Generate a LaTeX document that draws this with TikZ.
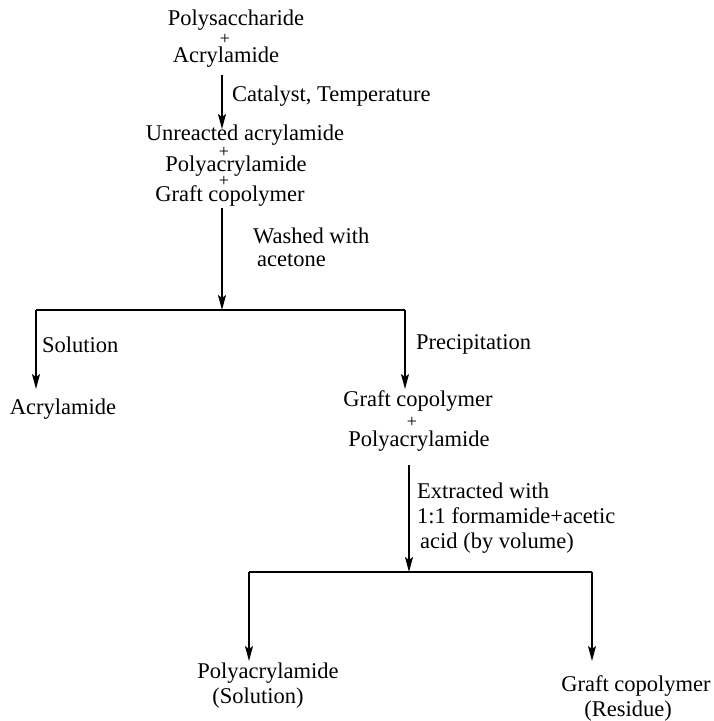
\documentclass[tikz,border=0pt]{standalone}
\usepackage{fontspec}
\setmainfont{Liberation Serif}
\usetikzlibrary{arrows.meta}
\begin{document}
\begin{tikzpicture}[x=1pt,y=-1pt,
 lbl/.style={inner sep=0pt, font=\fontsize{22.5}{25}\selectfont, text height=15pt, text depth=5pt},
 lblw/.style={lbl, anchor=west},
 plus/.style={inner sep=0pt, font=\fontsize{18}{20}\selectfont},
 arr/.style={line width=1.3pt, -{Stealth[length=15pt,width=8pt,inset=3pt]}},
 ln/.style={line width=1.3pt}]
\useasboundingbox (0,0) rectangle (714,721);
% top group
\node[lbl] (p1) at (236,20) {Polysaccharide};
\node[plus] (pl1) at (225,39) {+};
\node[lbl] (a1) at (226,57) {Acrylamide};
\node[lblw] (cat) at (232,96) {Catalyst, Temperature};
% second group
\node[lbl] (u1) at (245,135) {Unreacted acrylamide};
\node[plus] (pl2) at (224,152) {+};
\node[lbl] (pa1) at (236,166) {Polyacrylamide};
\node[plus] (pl3) at (224,181) {+};
\node[lbl] (g1) at (230,196) {Graft copolymer};
\node[lblw] (wash) at (253,238) {Washed with};
\node[lblw] (acet) at (257,261) {acetone};
% first split
\node[lblw] (sol1) at (42,347) {Solution};
\node[lblw] (prec) at (416,344) {Precipitation};
\node[lbl] (a2) at (63,409) {Acrylamide};
\node[lbl] (g2) at (418,401) {Graft copolymer};
\node[plus] (pl4) at (412,422) {+};
\node[lbl] (pa2) at (419,441) {Polyacrylamide};
\node[lblw] (ex1) at (417,493) {Extracted with};
\node[lblw] (ex2) at (417,518) {1:1 formamide+acetic};
\node[lblw] (ex3) at (420,543) {acid (by volume)};
% bottom
\node[lbl] (pa3) at (268,673) {Polyacrylamide};
\node[lbl] (sol2) at (258,698) {(Solution)};
\node[lbl] (g3) at (636,686) {Graft copolymer};
\node[lbl] (res) at (628,711) {(Residue)};
% coordinates
\coordinate (s1) at (222,75);
\coordinate (e1) at (222,129);
\coordinate (s2) at (222,208);
\coordinate (j1) at (222,310);
\coordinate (l1) at (36,310);
\coordinate (r1) at (405,310);
\coordinate (le1) at (36,389);
\coordinate (re1) at (405,389);
\coordinate (s3) at (409,465);
\coordinate (j2) at (409,572);
\coordinate (l2) at (249,572);
\coordinate (r2) at (592,572);
\coordinate (le2) at (249,661);
\coordinate (re2) at (592,661);
% connectors
\draw[arr] (s1) -- (e1);
\draw[arr] (s2) -- (j1);
\draw[ln] (l1) -- (r1);
\draw[arr] (l1) -- (le1);
\draw[arr] (r1) -- (re1);
\draw[arr] (s3) -- (j2);
\draw[ln] (l2) -- (r2);
\draw[arr] (l2) -- (le2);
\draw[arr] (r2) -- (re2);
\end{tikzpicture}
\end{document}
